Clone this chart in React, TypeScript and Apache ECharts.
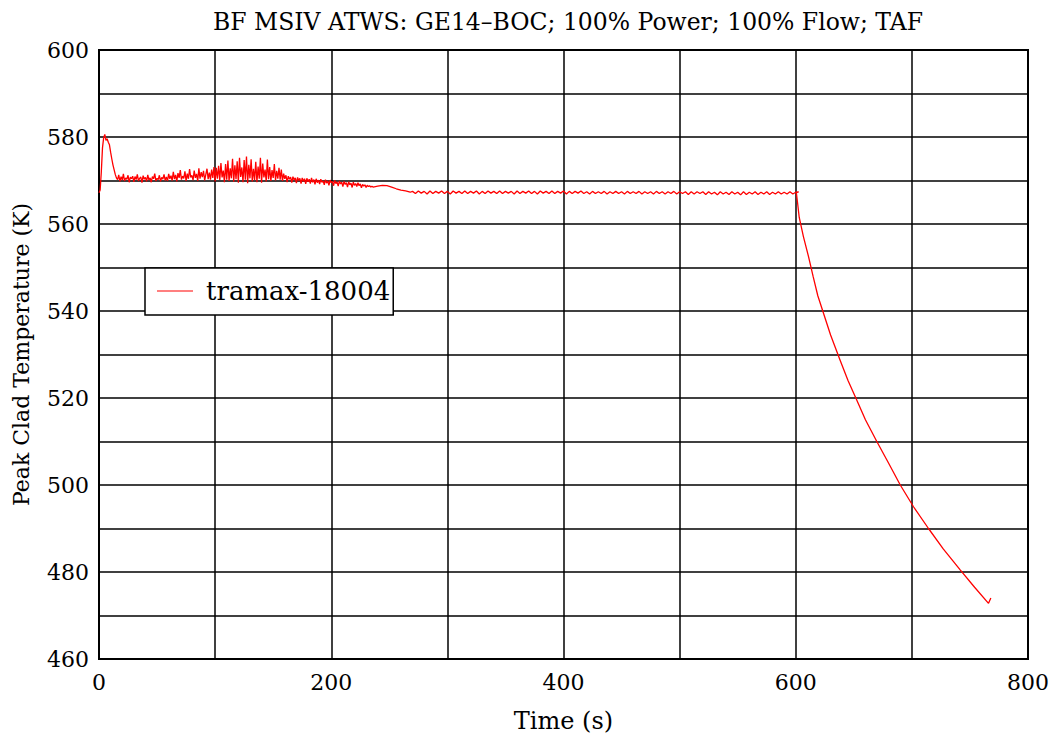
import React, { useEffect, useRef } from "react";
import * as echarts from "echarts";

// Start-up spike after the MSIV closure: [time (s), peak clad temperature (K)]
const startup: [number, number][] = [
  [0, 567.2], [1, 567.8], [2, 572.0], [3, 577.5], [4, 579.8], [5, 580.6],
  [6, 579.2], [7, 579.6], [8, 578.8], [9, 578.2], [10, 576.5], [11, 575.0],
  [12, 573.6], [13, 572.5], [14, 571.4], [15, 570.6],
];

// Oscillating phase, sampled every second from t = 16 s
const oscStart = 16;
const oscStep = 1;
const oscValues: number[] = [
  570.2, 571.3, 569.8, 570.9, 570.1, 571.5, 569.9, 570.6, 570.3, 571.2, 569.6, 570.8, 570.4, 571.0, 569.7, 570.9, 570.2, 571.4, 569.9, 570.5,
  570.8, 569.5, 571.1, 570.3, 570.7, 569.8, 571.3, 570.1, 570.6, 569.6, 570.9, 570.4, 571.6, 569.9, 570.5, 570.2, 571.2, 569.8, 570.7, 570.3,
  571.4, 570.0, 570.8, 569.9, 571.5, 570.4, 571.1, 570.0, 572.0, 570.3, 571.3, 569.8, 571.7, 570.6, 572.4, 570.2, 571.0, 570.5, 572.1, 569.9,
  571.6, 570.4, 572.6, 570.7, 571.2, 570.1, 572.3, 570.6, 571.5, 569.9, 572.8, 570.4, 571.9, 570.8, 572.2, 570.0, 571.4, 572.7, 570.3, 571.8,
  570.2, 572.5, 570.6, 573.1, 569.8, 572.9, 570.4, 573.4, 570.1, 574.0, 570.7, 572.3, 569.6, 573.8, 570.2, 574.6, 569.9, 572.8, 570.5, 575.0,
  569.7, 573.5, 570.3, 574.4, 569.5, 575.2, 570.8, 573.0, 569.6, 574.7, 570.2, 575.5, 569.4, 573.6, 570.5, 574.9, 569.8, 572.7, 570.1, 574.3,
  569.6, 573.2, 570.4, 575.2, 569.5, 573.9, 570.7, 572.5, 569.8, 574.8, 570.3, 573.1, 569.9, 572.4, 570.6, 573.8, 570.0, 572.2, 570.4, 572.9,
  570.2, 572.5, 569.9, 571.6, 570.4, 571.2, 569.6, 571.0, 570.3, 570.8, 569.5, 570.9, 570.1, 570.6, 569.4, 570.7, 570.0, 570.5, 569.3, 570.6,
  569.8, 570.4, 569.2, 570.5, 569.7, 570.3, 569.3, 570.6, 569.6, 570.2, 569.1, 570.4, 569.5, 570.1, 569.2, 570.3, 569.6, 569.9, 569.0, 570.2,
  569.4, 569.9, 568.9, 570.1, 569.5, 569.8, 568.8, 570.0, 569.3, 569.7, 568.7, 569.9, 569.2, 569.6, 568.6, 569.8, 569.1, 569.5, 568.5, 569.7,
  569.0, 569.4, 568.4, 569.6, 568.9, 569.3, 568.6, 569.5, 568.8, 569.2, 568.3, 569.1, 568.7, 569.0, 568.4, 568.9, 568.6, 568.8, 568.5, 568.7,
];

// Settling after the oscillations die out
const settle: [number, number][] = [
  [236, 568.5], [240, 568.7], [244, 568.9], [248, 568.8], [252, 568.5],
  [256, 568.1], [260, 567.8], [264, 567.6], [268, 567.3],
];

// Quasi-steady plateau, sampled every 2.5 s from t = 270 s to 600 s
const plateauStart = 270;
const plateauStep = 2.5;
const plateauValues: number[] = [
  567.5, 567.0, 567.6, 567.1, 567.5, 566.9, 567.6, 567.0, 567.5, 567.1, 567.6, 567.0, 567.5, 566.9, 567.6, 567.1, 567.5, 567.0, 567.6, 567.0,
  567.5, 567.1, 567.6, 566.9, 567.5, 567.0, 567.6, 567.1, 567.5, 567.0, 567.6, 567.0, 567.5, 567.1, 567.5, 566.9, 567.6, 567.0, 567.5, 567.1,
  567.6, 567.0, 567.5, 566.9, 567.6, 567.1, 567.5, 567.0, 567.6, 567.0, 567.5, 567.1, 567.6, 566.9, 567.5, 567.0, 567.5, 567.1, 567.6, 567.0,
  567.4, 566.9, 567.5, 567.0, 567.4, 567.0, 567.5, 566.9, 567.4, 567.0, 567.5, 567.0, 567.4, 566.9, 567.5, 567.0, 567.4, 567.0, 567.5, 566.9,
  567.4, 567.0, 567.4, 566.9, 567.5, 567.0, 567.4, 566.9, 567.4, 567.0, 567.5, 566.9, 567.4, 567.0, 567.4, 566.8, 567.4, 566.9, 567.4, 567.0,
  567.4, 566.8, 567.4, 566.9, 567.3, 566.7, 567.4, 566.9, 567.3, 566.8, 567.4, 566.9, 567.3, 566.7, 567.4, 566.8, 567.3, 566.9, 567.4, 566.8,
  567.3, 566.9, 567.4, 566.8, 567.3, 566.9, 567.4, 566.9, 567.3, 566.9, 567.4, 566.9, 567.3, 567.4,
];

// Clad temperature decay after 600 s
const decay: [number, number][] = [
  [600.5, 567.2], [601.5, 565.0], [603, 561.5], [606.6, 557.1], [611, 552.5],
  [615, 547.9], [619, 543.5], [623.9, 539.5], [630, 534.5], [638.2, 528.7],
  [645, 524.0], [652.6, 519.5], [660, 515.0], [669.8, 510.0], [680, 505.0],
  [690, 500.0], [701.4, 495.0], [714.3, 490.0], [727, 485.3], [741.6, 480.5],
  [754, 476.5], [766, 472.8], [768, 474.0],
];

const seriesName = "tramax-18004";
const titleText = "BF MSIV ATWS: GE14\u2013BOC; 100% Power; 100% Flow; TAF";
const xName = "Time (s)";
const yName = "Peak Clad Temperature (K)";

function buildSeries(): [number, number][] {
  const pts: [number, number][] = [...startup];
  oscValues.forEach((v, i) => pts.push([oscStart + i * oscStep, v]));
  pts.push(...settle);
  plateauValues.forEach((v, i) => pts.push([plateauStart + i * plateauStep, v]));
  pts.push(...decay);
  return pts;
}

const FONT = "DejaVu Serif";

export default function App() {
  const ref = useRef<HTMLDivElement>(null);

  useEffect(() => {
    if (!ref.current) return;
    const chart = echarts.init(ref.current, undefined, { renderer: "svg" });
    chart.setOption({
      animation: false,
      backgroundColor: "#ffffff",
      title: {
        text: titleText,
        left: 563,
        textAlign: "center",
        top: 5,
        textStyle: { fontFamily: FONT, fontSize: 23.5, fontWeight: "normal", color: "#000" },
      },
      legend: {
        left: 145,
        top: 268,
        orient: "vertical",
        backgroundColor: "#ffffff",
        borderColor: "#000",
        borderWidth: 1.5,
        borderRadius: 0,
        padding: [10, 3, 11, 12],
        itemWidth: 36,
        itemHeight: 14,
        textStyle: { fontFamily: FONT, fontSize: 26, color: "#000", padding: [0, 0, 0, 8] },
        data: [{ name: seriesName, icon: "path://M0,0 L36,0 L36,1 L0,1 Z" }],
      },
      grid: {
        left: 99,
        right: 29,
        top: 50,
        bottom: 79,
        outerBoundsMode: "none",
        containLabel: false,
        show: true,
        borderColor: "#000",
        borderWidth: 2,
        backgroundColor: "transparent",
      },
      xAxis: {
        type: "value",
        min: 0,
        max: 800,
        interval: 100,
        name: xName,
        nameLocation: "middle",
        nameGap: 50,
        nameTextStyle: { fontFamily: FONT, fontSize: 24, color: "#000" },
        axisLine: { show: true, lineStyle: { color: "#000", width: 2 } },
        axisTick: { show: false },
        splitLine: { show: true, lineStyle: { color: "#000", width: 1.5 } },
        axisLabel: {
          fontFamily: FONT,
          fontSize: 22,
          color: "#000",
          margin: 12,
          formatter: (v: number) => (v % 200 === 0 ? String(v) : ""),
        },
      },
      yAxis: {
        type: "value",
        min: 460,
        max: 600,
        interval: 10,
        name: yName,
        nameLocation: "middle",
        nameGap: 67,
        nameTextStyle: { fontFamily: FONT, fontSize: 22, color: "#000" },
        axisLine: { show: true, lineStyle: { color: "#000", width: 2 } },
        axisTick: { show: false },
        splitLine: { show: true, lineStyle: { color: "#000", width: 1.5 } },
        axisLabel: {
          fontFamily: FONT,
          fontSize: 22,
          color: "#000",
          margin: 10,
          formatter: (v: number) => (v % 20 === 0 ? String(v) : ""),
        },
      },
      series: [
        {
          name: seriesName,
          type: "line",
          data: buildSeries(),
          showSymbol: false,
          symbol: "none",
          lineStyle: { color: "#ff0000", width: 1.3 },
          itemStyle: { color: "#ff0000" },
          z: 5,
        },
      ],
    });
    return () => chart.dispose();
  }, []);

  return (
    <div
      ref={ref}
      style={{ width: 1057, height: 738, position: "absolute", left: 0, top: 0 }}
    />
  );
}
